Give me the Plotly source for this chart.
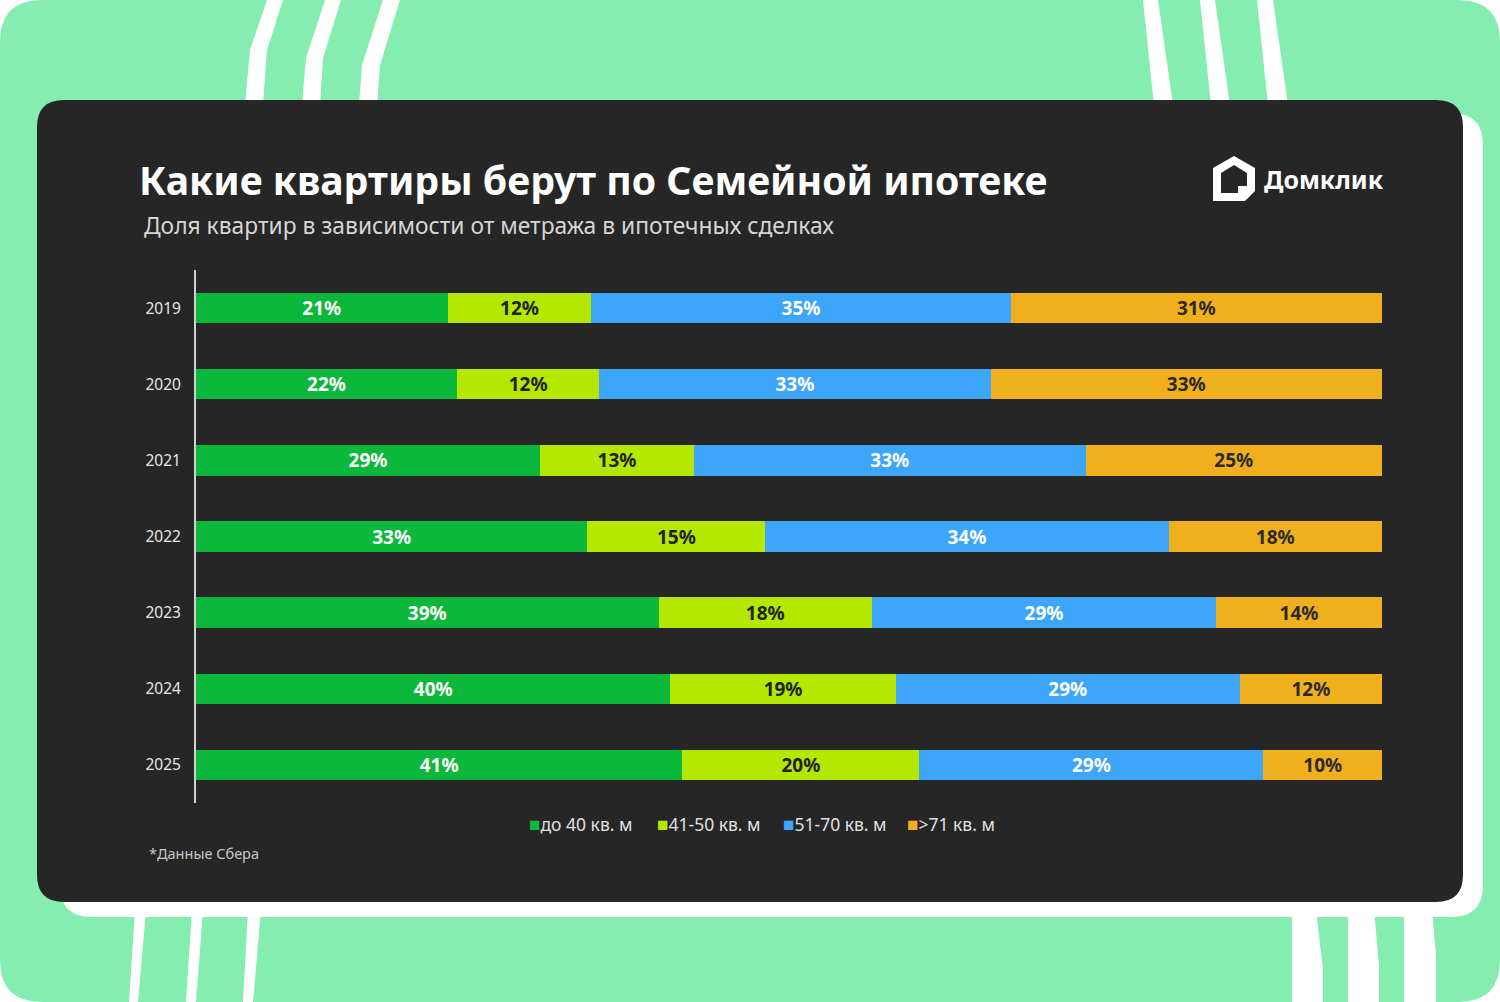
import plotly.graph_objects as go

# ---- data ----
years = ["2019", "2020", "2021", "2022", "2023", "2024", "2025"]
upto40 = [21, 22, 29, 33, 39, 40, 41]
s41_50 = [12, 12, 13, 15, 18, 19, 20]
s51_70 = [35, 33, 33, 34, 29, 29, 29]
over71 = [31, 33, 25, 18, 14, 12, 10]
series_names = ["до 40 кв. м", "41-50 кв. м", "51-70 кв. м", ">71 кв. м"]
series_colors = ["#0bb83b", "#b5e800", "#3da6fb", "#f0b01e"]
label_colors = ["#ffffff", "#222222", "#ffffff", "#2a2a2a"]

title = "Какие квартиры берут по Семейной ипотеке"
subtitle = "Доля квартир в зависимости от метража в ипотечных сделках"
footnote = "*Данные Сбера"
brand = "Домклик"

W, H = 1500, 1002
FONT = "Noto Sans"


def px(x):
    return x / W


def py(y):
    return 1 - y / H


def poly(points):
    s = "M " + " L ".join(f"{px(x):.5f},{py(y):.5f}" for x, y in points) + " Z"
    return s


def rrect(x0, y0, x1, y1, r):
    P = lambda x, y: f"{px(x):.5f},{py(y):.5f}"
    return (f"M {P(x0 + r, y0)} L {P(x1 - r, y0)} Q {P(x1, y0)} {P(x1, y0 + r)} "
            f"L {P(x1, y1 - r)} Q {P(x1, y1)} {P(x1 - r, y1)} "
            f"L {P(x0 + r, y1)} Q {P(x0, y1)} {P(x0, y1 - r)} "
            f"L {P(x0, y0 + r)} Q {P(x0, y0)} {P(x0 + r, y0)} Z")


fig = go.Figure()
all_series = [upto40, s41_50, s51_70, over71]
for name, vals, col, lc in zip(series_names, all_series, series_colors, label_colors):
    fig.add_trace(go.Bar(
        y=years, x=vals, name=name, orientation="h",
        marker=dict(color=col, line=dict(width=0)),
        text=[f"{v}%" for v in vals],
        textposition="inside", insidetextanchor="middle", textangle=0,
        constraintext="none",
        textfont=dict(family=FONT, size=19, color=lc, weight="bold"),
        hoverinfo="skip", showlegend=False,
    ))

shapes = []
GREEN = "#85edb0"
# green background panel
shapes.append(dict(type="path", path=rrect(0, 0, 1500, 1002, 42), fillcolor=GREEN,
                   line=dict(width=0), layer="below", xref="paper", yref="paper"))
# white stripes
stripes = [
    [(267, 0), (283, 0), (267, 50), (263, 105), (245, 105), (250, 50)],
    [(325, 0), (341, 0), (323, 58), (320, 105), (302, 105), (306, 58)],
    [(383, 0), (400, 0), (380, 65), (377, 105), (359, 105), (362, 65)],
    [(1143, 0), (1158, 0), (1173, 105), (1154, 105)],
    [(1200, 0), (1215, 0), (1230, 105), (1211, 105)],
    [(1257, 0), (1273, 0), (1288, 105), (1268, 105)],
    [(135, 910), (146, 910), (138, 1002), (129, 1002)],
    [(192, 910), (203, 910), (196, 1002), (186, 1002)],
    [(248, 910), (261, 910), (253, 1002), (243, 1002)],
    [(1292, 910), (1316, 910), (1323, 970), (1323, 1002), (1292, 1002)],
    [(1348, 910), (1374, 910), (1379, 965), (1379, 1002), (1348, 1002)],
    [(1404, 910), (1432, 910), (1436, 955), (1436, 1002), (1404, 1002)],
]
for s in stripes:
    shapes.append(dict(type="path", path=poly(s), fillcolor="#ffffff",
                       line=dict(width=0), layer="below", xref="paper", yref="paper"))
# white back card
shapes.append(dict(type="path", path=rrect(60, 113, 1483, 917, 32), fillcolor="#ffffff",
                   line=dict(width=0), layer="below", xref="paper", yref="paper"))
# dark card
shapes.append(dict(type="path", path=rrect(37, 100, 1463, 902, 27), fillcolor="#262626",
                   line=dict(width=0), layer="below", xref="paper", yref="paper"))
# logo icon
shapes.append(dict(type="path",
                   path=poly([(1213, 168), (1234, 156), (1255, 168), (1255, 191),
                              (1245, 201), (1213, 201)]),
                   fillcolor="#ffffff", line=dict(width=0), layer="above",
                   xref="paper", yref="paper"))
shapes.append(dict(type="path",
                   path=poly([(1221, 173), (1234, 165), (1247, 173), (1247, 186),
                              (1238, 186), (1238, 193), (1221, 193)]),
                   fillcolor="#262626", line=dict(width=0), layer="above",
                   xref="paper", yref="paper"))

annotations = [
    dict(text=title, x=px(137), y=py(180), xanchor="left", yanchor="middle",
         font=dict(family=FONT, size=39.2, color="#ffffff", weight="bold")),
    dict(text=subtitle, x=px(142), y=py(225), xanchor="left", yanchor="middle",
         font=dict(family=FONT, size=22.8, color="#d6d6d6")),
    dict(text=brand, x=px(1262), y=py(179), xanchor="left", yanchor="middle",
         font=dict(family=FONT, size=25, color="#ffffff", weight="bold")),
    dict(text=footnote, x=px(147), y=py(853), xanchor="left", yanchor="middle",
         font=dict(family=FONT, size=14.5, color="#c8c8c8")),
]
legend_x = [527, 655, 781, 905]
for name, col, lx in zip(series_names, series_colors, legend_x):
    annotations.append(dict(
        text=f'<span style="color:{col};font-size:19px">■</span>{name}',
        x=px(lx), y=py(824), xanchor="left", yanchor="middle",
        font=dict(family=FONT, size=17.5, color="#e0e0e0")))
for a in annotations:
    a.update(xref="paper", yref="paper", showarrow=False)

fig.update_layout(
    width=W, height=H, margin=dict(l=0, r=0, t=0, b=0),
    paper_bgcolor="#ffffff", plot_bgcolor="rgba(0,0,0,0)",
    barmode="stack", barnorm="percent", bargap=0.6,
    shapes=shapes, annotations=annotations, showlegend=False,
    xaxis=dict(domain=[px(196), px(1382)], range=[0, 100], visible=False, fixedrange=True),
    yaxis=dict(domain=[py(803), py(270)], type="category",
               categoryorder="array", categoryarray=years, autorange="reversed",
               showgrid=False, zeroline=False, showline=True, linecolor="#d0d0d0",
               linewidth=2, ticks="", ticklabelstandoff=10,
               tickfont=dict(family=FONT, size=15.5, color="#e6e6e6")),
    font=dict(family=FONT),
)

fig.write_html("out.html", config={"displayModeBar": False},
               post_script="document.body.style.margin='0';")
